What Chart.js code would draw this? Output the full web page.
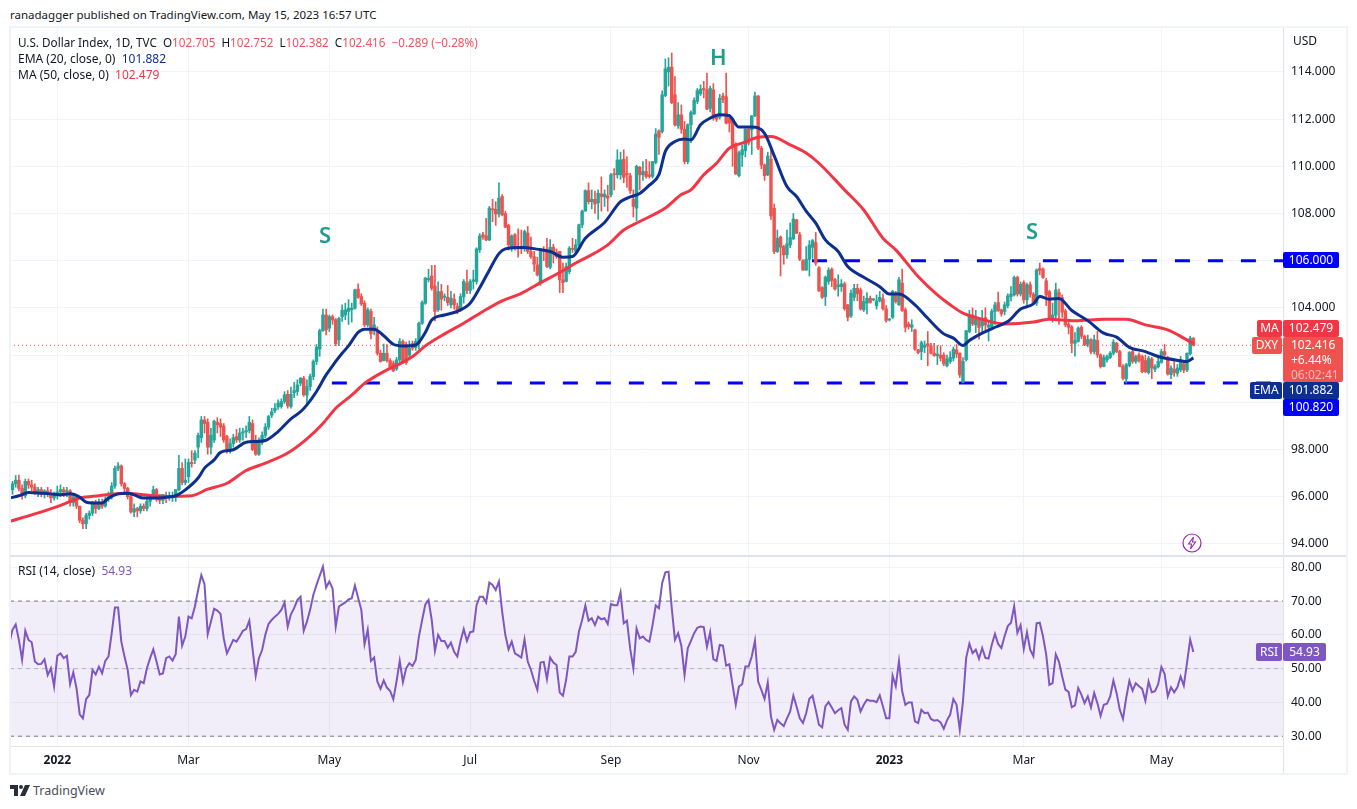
<!DOCTYPE html>
<html>
<head>
<meta charset="utf-8">
<title>U.S. Dollar Index</title>
<script src="https://cdn.jsdelivr.net/npm/chart.js@4/dist/chart.umd.min.js"></script>
<style>
  html, body { margin: 0; padding: 0; background: #fff; }
  body { width: 1357px; height: 809px; position: relative; overflow: hidden; font-family: 'Noto Sans', sans-serif; font-size: 12px; color: #131722; }
  canvas { position: absolute; left: 10px; }
  #price { top: 28px; }
  #rsi { top: 557px; }
  .abs { position: absolute; white-space: pre; line-height: 16px; }
  .frame { position: absolute; background: #f0f3fa; }
  .tag { position: absolute; color: #fff; text-align: center; line-height: 16px; border-radius: 2px; white-space: pre; }
  .letter { position: absolute; color: #1f9e8e; font-size: 22px; font-weight: 600; line-height: 24px; }
  .red { color: #f0525a; }
</style>
</head>
<body>
<div class="abs" style="left:10px;top:7px;font-size:11.5px">ranadagger published on TradingView.com, May 15, 2023 16:57 UTC</div>

<canvas id="price" width="1336" height="527"></canvas>
<canvas id="rsi" width="1336" height="216"></canvas>

<div class="frame" style="left:9px;top:26px;width:1339px;height:2px"></div>
<div class="frame" style="left:9px;top:26px;width:2px;height:749px"></div>
<div class="frame" style="left:1346px;top:26px;width:2px;height:749px"></div>
<div class="frame" style="left:9px;top:773px;width:1339px;height:2px"></div>
<div class="frame" style="left:10px;top:555px;width:1336px;height:2px;background:#e0e3eb"></div>
<div class="frame" style="left:1283px;top:747px;width:1px;height:26px;background:#e0e3eb"></div>

<div class="abs" style="left:18px;top:34px;font-size:11.7px">U.S. Dollar Index, 1D, TVC  O<span class="red">102.705</span>  H<span class="red">102.752</span>  L<span class="red">102.382</span>  C<span class="red">102.416</span>  <span class="red">−0.289 (−0.28%)</span></div>
<div class="abs" style="left:18px;top:51px">EMA (20, close, 0)  <span style="color:#0d2f8f">101.882</span></div>
<div class="abs" style="left:18px;top:67px">MA (50, close, 0)  <span style="color:#f23645">102.479</span></div>
<div class="abs" style="left:18px;top:563px">RSI (14, close)  <span style="color:#7e57c2">54.93</span></div>
<div class="abs" style="left:1293px;top:33px">USD</div>

<div class="letter" style="left:319px;top:222px">S</div>
<div class="letter" style="left:710px;top:44px">H</div>
<div class="letter" style="left:1026px;top:218px">S</div>

<div class="tag" style="left:1283px;top:252px;width:56px;height:16px;background:#0000ff">106.000</div>
<div class="tag" style="left:1257px;top:320px;width:25px;height:17px;background:#f23645">MA</div>
<div class="tag" style="left:1283px;top:320px;width:56px;height:17px;background:#f23645">102.479</div>
<div class="tag" style="left:1252px;top:337px;width:30px;height:17px;background:#ef5350">DXY</div>
<div class="tag" style="left:1283px;top:337px;width:60px;height:45px;background:#ef5350;text-align:left;padding-left:8px;box-sizing:border-box;line-height:15px">102.416
+6.44%
<span style="color:#f9b9b8">06:02:41</span></div>
<div class="tag" style="left:1250px;top:382px;width:32px;height:17px;background:#0d2f8f">EMA</div>
<div class="tag" style="left:1283px;top:382px;width:56px;height:17px;background:#0d2f8f">101.882</div>
<div class="tag" style="left:1283px;top:399px;width:56px;height:17px;background:#0000ff">100.820</div>
<div class="tag" style="left:1256px;top:643px;width:26px;height:18px;background:#7e57c2;line-height:18px">RSI</div>
<div class="tag" style="left:1283px;top:643px;width:43px;height:18px;background:#7e57c2;line-height:18px">54.93</div>

<svg style="position:absolute;left:1182px;top:533px" width="20" height="20" viewBox="0 0 20 20">
  <circle cx="10" cy="10" r="9" fill="#fff" stroke="#9c27b0" stroke-width="1.2"/>
  <path d="M11.5 4 L6.5 11 H9.5 L8.5 16 L13.5 9 H10.5 Z" fill="none" stroke="#9c27b0" stroke-width="1.1"/>
</svg>

<svg style="position:absolute;left:10px;top:785px" width="20" height="12" viewBox="0 0 20 12">
  <path d="M0 0 H8 V11 H4 V4 H0 Z M15 0 H20 L15 11 H10 Z" fill="#2a2e39"/>
  <circle cx="11" cy="2" r="2" fill="#2a2e39"/>
</svg>
<div class="abs" style="left:33px;top:782px;font-size:12.5px;line-height:18px;color:#4a4e59">TradingView</div>

<script>
'use strict';

const opens = [
  96.1,96.3,96.55,96.7,96.35,96.05,96.65,96.5,96.4,96.2,96.3,96.15,96.25,96.1,95.95,
  96.05,96.2,96.3,96.2,96.25,95.75,96.0,95.6,95.0,94.85,95.2,95.3,95.75,95.5,95.75,95.6,95.9,96.0,96.45,97.2,97.3,
  96.55,96.35,96.0,95.35,95.5,95.4,95.6,95.5,95.8,96.0,96.3,95.9,95.85,96.05,95.95,96.0,96.05,96.3,97.2,96.6,
  96.85,97.45,97.55,98.1,98.5,99.25,99.15,98.1,98.4,99.15,99.1,99.0,98.55,98.0,98.25,98.55,98.4,98.7,98.75,98.8,99.1,98.4,97.8,
  98.3,98.6,98.95,99.45,99.65,99.8,99.82,100.03,100.34,99.82,100.4,100.46,100.81,101.02,100.3,100.67,101.09,101.73,102.25,103.04,103.7,
  103.14,103.63,103.5,102.65,103.63,103.7,103.85,103.92,103.99,104.8,104.48,104.2,103.28,103.85,103.04,103.04,102.08,101.77,102.08,101.77,101.66,101.42,
  101.8,102.58,102.43,102.0,102.5,102.32,102.5,103.35,104.2,105.19,105.35,104.93,103.92,104.69,104.45,104.45,104.13,104.37,104.06,103.92,104.48,105.05,
  104.74,105.12,105.12,106.46,107.1,107.05,106.88,108.2,108.18,107.98,108.72,108.0,107.5,106.6,107.1,106.6,106.6,106.6,107.17,106.39,106.17,
  105.82,105.05,106.45,106.45,105.72,106.57,106.35,106.39,105.19,105.12,105.54,106.5,106.4,106.67,107.52,108.1,108.97,108.5,108.6,108.45,108.83,108.7,108.75,
  108.79,109.68,109.64,109.64,110.3,109.7,109.6,108.6,108.23,109.96,109.64,109.78,109.64,109.57,110.16,111.5,111.47,113.0,114.0,114.2,113.03,111.72,
  112.18,111.57,110.2,111.76,112.22,112.75,113.07,113.3,113.24,112.46,113.24,112.1,112.08,112.98,112.95,112.04,111.97,110.95,109.6,110.48,110.67,
  111.57,111.55,112.14,112.98,110.77,110.06,109.64,110.3,108.22,106.39,107.0,106.6,106.25,106.67,106.92,107.73,107.1,106.0,105.6,106.06,106.57,106.77,
  105.7,104.86,104.48,105.12,105.64,105.2,104.9,104.9,105.02,104.13,103.66,104.45,104.83,104.76,103.92,104.2,104.41,104.34,104.09,104.3,104.38,103.96,
  103.49,103.6,104.6,104.13,105.05,103.92,103.32,103.18,103.07,102.22,102.15,102.33,102.48,102.39,102.08,101.97,102.0,102.0,101.55,101.73,101.87,102.22,
  102.08,100.85,101.8,103.0,103.7,103.28,103.52,103.24,103.59,103.18,103.18,103.85,104.23,103.92,103.85,104.09,104.48,104.55,105.29,104.59,
  105.07,104.34,104.98,104.58,104.2,105.68,105.65,105.15,104.69,103.56,103.7,104.65,104.44,103.87,103.32,103.2,102.5,102.58,103.18,102.8,102.46,102.65,102.15,
  102.62,102.01,101.52,101.8,101.9,102.08,102.5,102.15,101.52,100.99,101.56,102.15,101.73,102.01,101.94,101.77,101.26,101.83,101.4,101.5,
  101.69,102.15,101.87,101.17,101.4,101.23,101.37,101.63,101.37,102.05,102.705
];

const highs = [
  96.4,96.65,96.9,96.92,96.5,96.75,96.75,96.7,96.55,96.4,96.4,96.3,96.4,96.3,96.2,
  96.45,96.5,96.4,96.4,96.3,96.1,96.05,95.6,95.1,95.3,95.4,95.8,95.85,95.9,95.9,96.0,96.2,96.6,97.3,97.45,97.35,
  96.6,96.4,96.1,95.7,95.55,95.7,95.7,96.0,96.1,96.45,96.35,96.1,96.1,96.2,96.2,96.2,96.3,97.75,97.45,97.6,
  97.6,97.95,97.95,98.7,99.4,99.4,99.3,98.9,99.25,99.35,99.3,99.1,98.6,98.45,98.65,98.85,98.9,98.9,99.0,99.4,99.25,98.6,98.5,
  98.75,99.1,99.45,99.75,99.95,100.1,100.15,100.45,100.5,100.65,100.85,100.95,101.05,101.1,100.95,101.2,101.8,102.45,103.1,103.95,103.95,
  103.7,103.7,103.55,103.6,104.13,104.2,104.35,104.2,104.8,105.02,104.6,104.3,104.0,103.95,103.6,103.2,102.2,102.47,102.45,101.85,101.75,101.9,
  102.7,102.65,102.55,102.6,102.6,102.7,103.4,104.3,105.3,105.64,105.8,105.8,105.1,105.0,104.6,104.95,104.7,104.6,104.2,104.6,105.2,105.6,
  105.2,105.6,106.55,107.15,107.2,107.8,108.3,108.6,108.5,109.3,108.8,108.1,107.55,107.1,107.15,107.35,107.3,107.3,107.45,107.0,106.4,
  106.15,106.45,106.6,106.95,106.9,106.7,106.5,106.4,105.9,105.9,106.6,106.95,106.9,107.55,108.15,109.0,109.3,109.0,108.95,109.0,109.55,109.0,109.2,
  109.7,109.9,110.7,110.6,110.7,110.4,109.7,109.0,110.05,110.0,110.2,110.3,110.2,110.2,111.6,111.55,113.2,114.55,114.6,114.8,113.8,112.7,
  112.6,111.9,111.8,112.35,112.9,113.3,113.45,113.6,113.95,113.4,113.5,112.2,113.05,113.1,113.95,112.2,112.0,111.0,110.65,110.9,111.6,
  111.65,112.15,113.15,113.0,110.85,110.1,110.6,110.7,108.4,107.3,107.05,106.65,107.3,107.6,108.0,107.75,107.2,106.05,106.6,106.85,106.9,107.2,
  105.75,104.9,105.35,105.7,105.7,105.25,105.4,105.2,105.1,104.15,104.75,105.0,105.0,104.85,104.5,104.65,104.5,104.4,104.55,104.7,104.6,104.1,
  103.55,104.75,104.7,105.3,105.65,104.0,103.4,103.5,103.1,102.25,102.6,102.6,103.0,102.5,102.5,102.4,102.4,102.1,102.0,102.15,102.35,102.45,
  102.1,101.9,103.05,103.9,104.0,103.9,103.6,103.9,104.0,103.45,103.95,104.25,104.67,103.95,104.25,104.6,104.9,105.35,105.35,105.1,
  105.15,105.05,105.1,104.65,105.65,105.9,105.7,105.25,104.75,104.2,105.05,104.8,104.55,103.95,103.4,103.25,102.95,103.2,103.25,102.85,102.85,102.7,102.85,
  103.0,102.05,102.0,102.0,102.15,102.65,102.55,102.2,101.6,101.65,102.15,102.2,102.0,102.1,102.0,102.0,101.95,101.9,101.6,102.0,
  102.25,102.45,101.95,101.55,101.8,101.6,101.95,101.75,102.1,102.8,102.752
];

const lows = [
  95.95,96.1,96.4,96.25,95.9,95.95,96.35,96.25,96.1,96.0,96.0,95.95,96.0,95.75,95.85,
  95.9,96.0,96.0,96.0,95.6,95.6,95.5,94.9,94.65,94.65,95.05,95.2,95.3,95.45,95.5,95.55,95.8,95.9,96.35,97.1,96.45,
  96.2,95.9,95.3,95.15,95.15,95.3,95.4,95.4,95.6,95.9,95.8,95.7,95.7,95.75,95.85,95.8,95.8,96.25,96.5,96.5,
  96.6,97.25,97.4,97.65,98.3,98.7,97.8,97.8,98.3,98.7,98.55,98.3,97.85,97.85,98.1,98.3,98.3,98.4,98.5,98.7,97.95,97.75,97.75,
  98.2,98.5,98.85,99.35,99.55,99.7,99.75,99.95,99.75,99.75,100.2,100.3,100.7,100.25,99.9,100.5,100.95,101.6,101.95,103.0,102.85,
  103.0,103.3,102.4,102.4,103.43,103.5,103.3,103.4,103.95,104.4,104.1,103.2,103.2,102.69,102.85,102.0,101.7,101.75,101.7,101.4,101.3,101.35,
  101.7,101.65,101.6,101.8,102.2,102.2,102.25,103.3,104.15,105.1,104.75,103.45,103.85,103.9,104.3,104.1,104.0,103.95,103.75,103.85,104.2,104.6,
  104.6,104.8,105.0,106.35,106.9,106.85,106.85,107.65,107.5,107.85,107.9,107.4,106.45,106.4,106.45,106.15,106.3,106.4,106.3,106.1,105.55,
  105.35,104.95,106.0,105.7,105.65,105.9,106.1,104.65,104.65,105.1,105.45,106.35,106.35,106.5,107.4,108.1,108.4,108.2,108.0,107.75,108.1,108.3,108.1,
  108.7,109.0,109.5,109.45,109.3,109.1,108.85,107.85,107.7,109.0,109.4,109.5,109.5,109.5,110.1,110.5,111.4,112.95,113.4,112.65,111.7,111.6,
  111.4,110.1,110.1,111.0,112.2,112.65,113.0,112.9,112.4,112.3,111.95,111.9,112.0,112.7,111.8,111.45,110.0,109.65,109.55,110.0,110.4,
  110.9,110.5,112.1,110.7,109.9,109.4,109.6,107.75,106.3,106.35,105.35,105.85,106.1,106.55,106.9,107.15,106.0,105.6,105.6,105.35,106.1,105.8,
  104.7,104.4,104.1,105.0,104.9,104.75,104.5,104.7,103.9,103.45,103.6,104.3,104.3,103.9,103.85,103.75,104.2,104.3,103.95,104.25,103.9,103.4,
  103.45,103.55,104.2,104.1,103.85,102.98,103.1,103.0,102.2,102.05,101.8,102.1,101.55,102.05,101.95,101.6,101.75,101.55,101.5,101.65,101.75,101.9,
  101.05,100.82,101.75,102.95,103.25,102.95,102.68,103.0,103.05,102.6,103.1,103.3,103.85,103.65,103.7,104.0,104.3,104.5,104.5,104.5,
  104.2,104.1,104.45,104.15,104.1,105.4,105.25,104.1,103.5,103.4,103.45,103.3,103.6,103.2,102.9,102.1,101.95,102.55,102.7,102.4,102.35,102.05,102.05,
  101.9,101.45,101.5,101.7,101.85,102.0,102.1,101.5,100.95,100.82,101.5,101.65,101.65,101.7,101.25,101.25,101.2,101.0,101.3,101.45,
  101.65,101.95,101.15,101.0,101.1,101.1,101.3,101.25,101.3,102.0,102.382
];

const closes = [
  96.3,96.55,96.7,96.35,96.05,96.65,96.5,96.4,96.2,96.3,96.15,96.25,96.1,95.95,96.05,
  96.2,96.3,96.2,96.25,95.75,96.0,95.6,95.0,94.85,95.2,95.3,95.75,95.5,95.75,95.6,95.9,96.0,96.45,97.2,97.3,96.55,
  96.35,96.0,95.35,95.5,95.4,95.6,95.5,95.8,96.0,96.3,95.9,95.85,96.1,95.95,96.0,96.05,96.3,97.2,96.6,96.7,
  97.45,97.4,97.85,98.6,99.25,99.1,98.1,98.6,99.2,99.05,98.95,98.4,98.0,98.25,98.5,98.4,98.7,98.75,98.8,99.15,98.0,97.8,98.4,
  98.6,98.95,99.4,99.6,99.75,99.97,100.03,100.32,99.85,100.34,100.5,100.74,101.02,100.32,100.67,101.09,101.73,102.34,103.04,103.7,103.07,
  103.63,103.49,102.48,103.55,103.9,103.92,103.99,103.99,104.76,104.45,104.17,103.28,103.92,102.9,103.28,102.08,101.73,102.08,101.77,101.45,101.33,101.8,
  102.58,101.73,101.68,102.29,102.29,102.58,103.35,104.23,105.26,105.26,104.83,103.85,104.69,104.37,104.5,104.23,104.41,104.13,103.85,104.48,105.12,104.74,
  105.12,105.19,106.5,107.05,107.0,106.88,108.23,108.15,107.98,108.65,107.94,107.42,106.67,107.05,106.53,106.53,106.5,107.24,106.39,106.17,105.85,
  105.4,106.39,106.39,105.75,106.57,106.3,106.18,105.19,105.07,105.75,106.53,106.48,106.67,107.52,108.1,108.97,108.5,108.6,108.4,108.86,108.72,108.82,108.65,
  109.64,109.64,110.27,110.27,109.53,109.64,108.97,108.3,110.0,109.64,109.78,109.57,109.57,110.2,111.37,111.23,113.03,114.13,114.2,112.7,111.76,112.18,
  111.57,110.2,111.76,112.28,112.79,113.21,113.27,113.24,112.42,113.3,112.04,112.0,112.88,112.84,111.83,111.83,110.77,109.68,110.58,110.7,111.57,
  110.98,112.14,112.98,110.77,110.06,109.6,110.44,107.9,106.39,106.95,106.57,106.25,106.71,106.98,107.77,107.16,106.06,105.6,106.06,106.67,106.85,105.9,
  104.72,104.45,105.3,105.6,105.16,104.8,104.98,105.02,103.96,103.6,104.62,104.83,104.6,103.96,104.27,104.41,104.23,104.34,104.3,104.45,103.96,103.47,
  103.5,104.7,104.27,105.19,103.89,103.18,103.21,103.28,102.25,102.11,102.53,102.43,102.39,102.08,101.98,102.04,101.87,101.63,101.84,101.9,102.25,102.05,
  101.16,101.73,103.03,103.7,103.32,103.52,103.17,103.56,103.28,103.28,103.85,104.13,103.89,103.75,104.13,104.51,104.59,105.29,104.59,105.0,
  104.34,104.98,104.58,104.23,105.61,105.58,105.29,104.55,103.56,103.7,104.76,104.48,103.82,103.28,103.18,102.5,102.62,103.14,102.8,102.43,102.67,102.15,102.65,
  102.01,101.52,101.9,101.94,102.08,102.55,102.15,101.52,101.02,101.59,102.11,101.73,101.94,101.77,101.3,101.3,101.87,101.45,101.52,101.73,
  102.15,102.0,101.2,101.45,101.26,101.45,101.8,101.37,102.08,102.72,102.416
];

// moving averages at the bars where the line bends
const emaBars = [0,3,6,10,13,16,19,22,24,26,29,31,34,37,39,42,45,49,52,55,59,61,64,66,70,74,77,80,84,88,91,93,96,99,101,102,104,106,109,111,114,117,120,123,127,130,132,136,140,144,147,150,153,155,160,165,169,173,176,180,186,191,194,197,200,203,205,208,211,213,216,219,222,225,228,232,236,239,243,246,249,252,255,259,262,267,272,275,278,283,287,292,295,298,300,304,308,312,316,320,322,325,328,332,337,342,346,350,355,359,366,368,370];
const emaValues = [95.94,96.04,96.18,96.15,96.12,96.08,96.12,95.98,95.77,95.73,95.73,95.94,96.12,96.15,96.08,95.94,95.94,95.98,96.04,96.29,96.79,97.21,97.56,97.88,97.99,98.31,98.34,98.38,98.76,99.3,99.6,99.89,100.46,101.16,101.54,101.73,102.08,102.39,102.96,103.1,103.1,102.82,102.46,102.39,102.43,102.96,103.49,103.7,103.85,104.2,104.85,105.6,106.3,106.5,106.56,106.49,106.39,106.15,106.18,106.95,107.62,108.5,108.7,108.85,109.2,109.65,110.63,111.05,111.16,111.12,111.76,112.04,112.18,112.14,111.66,111.66,111.4,110.45,109.14,108.72,108.1,107.59,106.88,106.39,105.75,105.3,104.9,104.59,104.59,104.13,103.56,102.9,102.72,102.41,102.62,102.93,103.18,103.42,103.95,104.17,104.48,104.37,104.4,103.89,103.46,102.93,102.76,102.33,102.15,101.94,101.76,101.73,101.882];
const maBars = [0,8,15,22,28,36,42,49,57,62,68,74,80,87,93,98,102,107,111,117,122,126,130,136,142,148,154,160,166,172,177,182,187,192,197,205,210,213,217,221,225,229,234,238,244,249,253,261,267,273,277,284,290,294,298,304,311,320,325,333,342,349,355,362,367,370];
const maValues = [94.95,95.27,95.58,95.94,96.04,96.15,96.08,96.01,96.04,96.32,96.57,97.11,97.42,97.85,98.45,99.1,99.75,100.3,100.8,101.3,101.63,101.94,102.39,102.9,103.35,103.85,104.3,104.62,105.07,105.5,105.9,106.25,106.67,107.3,107.66,108.23,108.8,109.0,109.64,110.13,110.77,110.98,111.23,111.26,110.91,110.56,110.13,109.0,108.15,106.95,106.46,105.33,104.55,104.13,103.78,103.52,103.32,103.4,103.52,103.46,103.52,103.52,103.28,103.07,102.72,102.479];

const rsiValues = [
  57.5,61.5,63.1,58.5,52.6,61.2,58.5,57.8,52.1,51.3,
  51.4,52.8,48.1,50.1,44.7,53.8,54.5,53.1,53.8,45.4,
  48.9,44.2,36.5,35.3,41,42.2,49.6,48.3,50.6,48.6,
  52.3,53.6,60.5,68.1,68.1,58,53.6,49.6,42.2,43.7,
  43.2,46.2,45.7,50.1,53.1,55.7,52.1,48.3,48.6,53.1,
  53.6,52.4,54.3,65.4,56.8,59.5,65.4,64.9,68.4,73.3,
  77.7,75,60.2,63.9,67.7,67.2,66.2,59,54.5,56.5,
  58.5,58,59.5,61.2,61.7,64.2,56,47.9,53.1,55.5,
  60,63.2,64.4,65.4,66.2,67.4,69.6,62.4,66.1,67.9,
  70.3,71.3,61.2,63.9,67.4,71.8,74.8,77.5,80.2,74,
  75.8,73.8,62.4,68.4,69,69.6,70.5,70.8,74.6,71,
  67.4,57.2,61.5,52.3,53.3,46.2,44,46.5,44.4,43.4,
  40.9,46.2,52.3,46,50.1,51.6,50.8,52.6,59.5,64.4,69,70.3,
  64.4,55.2,60,58.2,58.2,56.2,57.7,55,53.6,58.2,
  61.7,58.2,60.8,61,68.8,71.3,71.3,69.6,75.5,74.8,
  73.3,75.8,66.9,60,55.7,58,54.5,53.9,53.3,58.7,
  52.1,49.6,46.4,43.7,51.8,52,46.9,53.3,51.8,51.1,
  42.9,42,46.7,53.6,53.6,55,61,64.4,68.7,64.2,
  64.9,62.9,65.4,64.6,64.9,63.2,69.1,68.8,68.8,72.6,
  63.4,64.2,56,50.1,61.9,59,59.5,58.5,58,62.9,
  68.7,67.9,75.3,78.5,78.7,67.9,58.5,60.5,56.8,48.1,
  56,58.2,60.5,62.1,62.5,62.3,56.5,60.8,52.8,52.3,
  57,56.8,50.9,51.3,45.2,39.3,44.7,45.4,50.6,50.6,
  53.6,58.3,46.2,43.7,41,45.9,35.8,31.9,34.8,33.8,
  33,35.3,37.3,42,38.8,35.3,
  33.9,36.8,41.1,42,37.8,33.4,32.6,38.8,40.1,38.5,
  36.8,37.7,38.3,33.4,31.9,40.3,41.8,40.8,37.3,39.3,
  40.8,40.5,40.5,40.1,42.1,38.8,35.3,35.3,48,44.8,
  52.2,43.3,39.3,40,40,34.4,33.9,37.8,36.8,37,
  35.1,34.6,34.8,34.1,32.2,34.7,36.4,41,39.3,31.9,
  40.3,53.2,57.4,54.6,55.6,52.9,56.1,53.2,53,57.1,
  60.3,57.3,56.1,59.6,62.6,63.6,68.5,60.6,62.9,55.8,
  60.8,55.6,53.7,63.4,63.6,59.6,54.2,45.2,45.7,54.2,
  52,47.7,43.8,43.1,38.6,39.1,44.3,42.3,39.8,41.8,
  38.5,42.8,39.8,36,39.3,39.6,41.8,46.5,42.8,37.8,
  35.1,41.3,46.4,43.5,45.7,44.8,44,40.5,46.2,43,
  43.3,45.4,50.5,48.5,41.8,44.5,43,44.5,47.7,45,
  51.7,58.6,54.93
];

const monthBars = [15,56,100,144,188,231,275,317,360];
const monthLabels = ['2022','Mar','May','Jul','Sep','Nov','2023','Mar','May'];
const priceTicks = [94,96,98,100,102,104,106,108,110,112,114];
const rsiTicks = [30,40,50,60,70,80];

const upColor = '#26a69a';
const downColor = '#ef5350';
const gridColor = '#f0f3fa';
const axisColor = '#e0e3eb';
const fontFamily = "'Noto Sans', sans-serif";
const firstBar = 0.22;
const lastBar = 398;

const candleColors = closes.map((c, i) => c >= opens[i] ? upColor : downColor);
const pairs = (xs, ys) => xs.map((x, i) => ({ x: x, y: ys[i] }));
const flat = (from, value) => [{ x: from, y: value }, { x: lastBar, y: value }];

function timeAxis(showLabels) {
  return {
    type: 'linear',
    min: firstBar,
    max: lastBar,
    offset: false,
    grid: { color: gridColor, offset: false, drawTicks: false },
    border: { color: axisColor, display: showLabels },
    afterBuildTicks: (axis) => { axis.ticks = monthBars.map((v) => ({ value: v })); },
    afterFit: (axis) => { axis.height = showLabels ? 27 : 0; axis.paddingLeft = 0; axis.paddingRight = 0; },
    ticks: {
      display: showLabels,
      autoSkip: false,
      maxRotation: 0,
      padding: 7,
      color: '#131722',
      font: (ctx) => ({ family: fontFamily, size: 12, weight: String(monthLabels[ctx.index]).length === 4 ? 'bold' : 'normal' }),
      callback: (value, index) => monthLabels[index]
    }
  };
}

function valueAxis(min, max, values, digits) {
  return {
    position: 'right',
    min: min,
    max: max,
    grid: { color: gridColor, drawTicks: false },
    border: { color: axisColor },
    afterBuildTicks: (axis) => { axis.ticks = values.map((v) => ({ value: v })); },
    afterFit: (axis) => { axis.width = 63; axis.paddingTop = 0; axis.paddingBottom = 0; },
    ticks: {
      padding: 8,
      color: '#131722',
      autoSkip: false,
      font: { family: fontFamily, size: 12 },
      callback: (value) => Number(value).toFixed(digits)
    }
  };
}

const baseOptions = {
  responsive: false,
  animation: false,
  devicePixelRatio: 1,
  layout: { padding: 0 },
  plugins: { legend: { display: false }, tooltip: { enabled: false } },
  elements: { point: { radius: 0 } }
};

new Chart(document.getElementById('price'), {
  type: 'line',
  data: {
    datasets: [
      { type: 'line', data: flat(firstBar, closes[closes.length - 1]), borderColor: downColor, borderWidth: 1, borderDash: [1, 3], order: 6 },
      { type: 'line', data: flat(100.8, 100.82), borderColor: '#0000ff', borderWidth: 3, borderDash: [15, 18], order: 5 },
      { type: 'line', data: flat(250.8, 106), borderColor: '#0000ff', borderWidth: 3, borderDash: [15, 18], order: 5 },
      { type: 'bar', data: lows.map((l, i) => ({ x: i, y: [l, highs[i]] })), backgroundColor: candleColors, barThickness: 1, grouped: false, order: 4 },
      { type: 'bar', data: opens.map((o, i) => ({ x: i, y: [o, closes[i]] })), backgroundColor: candleColors, barThickness: 2.8, minBarLength: 1, grouped: false, order: 3 },
      { type: 'line', data: pairs(maBars, maValues), borderColor: '#f23645', borderWidth: 3, cubicInterpolationMode: 'monotone', order: 2 },
      { type: 'line', data: pairs(emaBars, emaValues), borderColor: '#0d2f8f', borderWidth: 3, cubicInterpolationMode: 'monotone', order: 1 }
    ]
  },
  options: Object.assign({}, baseOptions, {
    scales: { x: timeAxis(false), y: valueAxis(93.53, 115.86, priceTicks, 3) }
  })
});

new Chart(document.getElementById('rsi'), {
  type: 'line',
  data: {
    datasets: [
      { data: flat(firstBar, 70), borderColor: '#787b86', borderWidth: 1, borderDash: [4, 4], fill: { target: { value: 30 } }, backgroundColor: 'rgba(126,87,194,0.1)', order: 4 },
      { data: flat(firstBar, 50), borderColor: '#b2b5be', borderWidth: 1, borderDash: [4, 4], order: 3 },
      { data: flat(firstBar, 30), borderColor: '#787b86', borderWidth: 1, borderDash: [4, 4], order: 2 },
      { data: rsiValues.map((v, i) => ({ x: i, y: v })), borderColor: '#7e57c2', borderWidth: 2, order: 1 }
    ]
  },
  options: Object.assign({}, baseOptions, {
    plugins: { legend: { display: false }, tooltip: { enabled: false }, filler: { propagate: false } },
    scales: { x: timeAxis(true), y: valueAxis(27.1, 83.05, rsiTicks, 2) }
  })
});
</script>
</body>
</html>
